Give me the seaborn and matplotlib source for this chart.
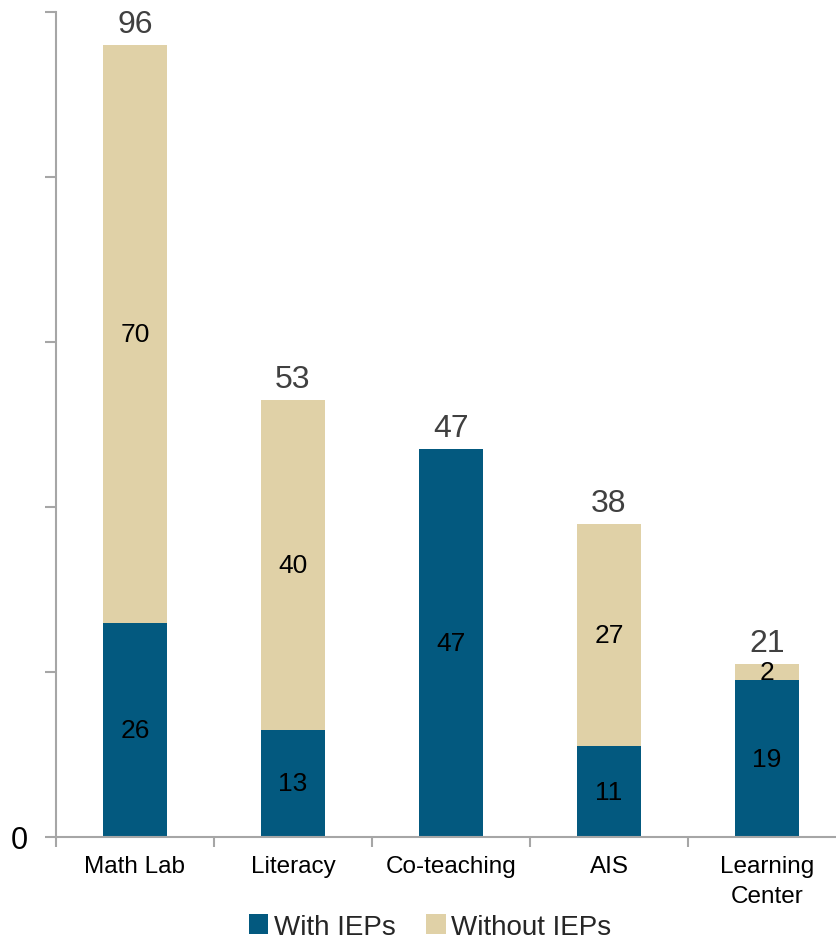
import matplotlib
matplotlib.use("Agg")
import matplotlib.pyplot as plt
import seaborn as sns
import pandas as pd
from matplotlib.patches import Patch

programs = ["Math Lab", "Literacy", "Co-teaching", "AIS", "Learning\nCenter"]
with_ieps = [26, 13, 47, 11, 19]
without_ieps = [70, 40, 0, 27, 2]
totals = [w + wo for w, wo in zip(with_ieps, without_ieps)]

blue = "#03597f"
tan = "#e0d1a7"
axis_gray = "#a6a6a6"

sns.set_theme(style="white")
plt.rcParams["font.family"] = ["Liberation Sans", "DejaVu Sans"]

df = pd.DataFrame({"program": programs, "with": with_ieps,
                   "without": without_ieps, "total": totals})

fig = plt.figure(figsize=(8.37, 9.45), dpi=100)
ax = fig.add_axes([56 / 837, 107 / 945, 790 / 837, 825 / 945])

# Stack: full totals in tan underneath, the IEP share in blue over it
sns.barplot(data=df, x="program", y="total", color=tan, width=0.4,
            saturation=1, linewidth=0, ax=ax)
sns.barplot(data=df, x="program", y="with", color=blue, width=0.4,
            saturation=1, linewidth=0, ax=ax)

ax.set_ylim(0, 100)
ax.set_xlim(-0.5, 4.5)
ax.set_yticks(range(0, 101, 20))
ax.set_yticklabels(["0", "", "", "", "", ""])
ax.set_xticks(range(len(programs)))
ax.set_xticklabels(programs, fontsize=17.5, color="black", linespacing=1.45)
ax.set_xlabel("")
ax.set_ylabel("")

# Category separators on the x axis
ax.set_xticks([i - 0.5 for i in range(len(programs) + 1)], minor=True)
ax.tick_params(axis="x", which="major", length=0, pad=13, bottom=True)
ax.tick_params(axis="x", which="minor", length=7, width=1.5, color=axis_gray,
               direction="out", bottom=True)
ax.tick_params(axis="y", length=8, width=1.5, color=axis_gray, direction="out",
               labelsize=22, pad=12, labelcolor="black", left=True)

for side in ("top", "right"):
    ax.spines[side].set_visible(False)
for side in ("left", "bottom"):
    ax.spines[side].set_color(axis_gray)
    ax.spines[side].set_linewidth(1.5)

for i, (w, wo, t) in enumerate(zip(with_ieps, without_ieps, totals)):
    ax.text(i, w / 2, str(w), ha="center", va="center", fontsize=19,
            color="black")
    if wo > 0:
        ax.text(i, w + wo / 2, str(wo), ha="center", va="center",
                fontsize=19, color="black")
    ax.text(i, t + 0.7, str(t), ha="center", va="bottom", fontsize=23,
            color="#404040")

handles = [Patch(facecolor=blue, edgecolor="none", label="With IEPs"),
           Patch(facecolor=tan, edgecolor="none", label="Without IEPs")]
fig.legend(handles=handles, loc="lower center", bbox_to_anchor=(0.514, -0.022),
           ncol=2, frameon=False, fontsize=20, handlelength=0.7,
           handleheight=0.7, handletextpad=0.2, columnspacing=1.1)

fig.savefig("out.png", dpi=100)
